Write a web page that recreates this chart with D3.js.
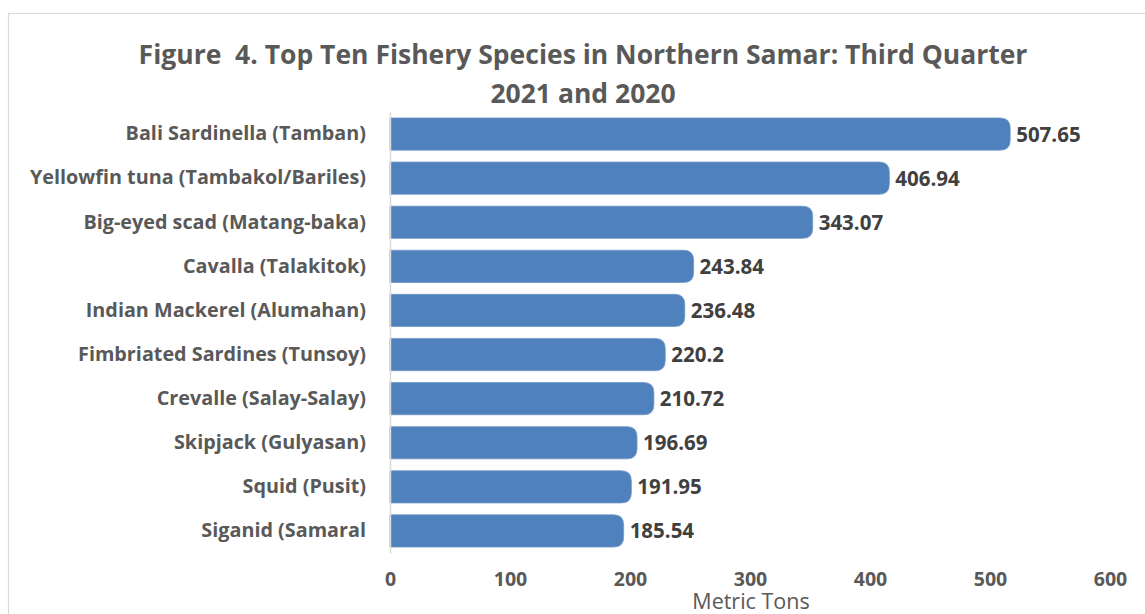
<!DOCTYPE html>
<html>
<head>
<meta charset="utf-8">
<script src="https://cdn.jsdelivr.net/npm/d3@7"></script>
<style>
  html, body { margin: 0; padding: 0; background: #fff; }
  svg { display: block; }
  text { font-family: "Open Sans", Lato, sans-serif; white-space: pre; }
</style>
</head>
<body>
<svg id="chart" width="1145" height="614"></svg>
<script>
// Top ten fishery species, Northern Samar, third quarter (metric tons)
const species = [
  "Bali Sardinella (Tamban)",
  "Yellowfin tuna (Tambakol/Bariles)",
  "Big-eyed scad (Matang-baka)",
  "Cavalla (Talakitok)",
  "Indian Mackerel (Alumahan)",
  "Fimbriated Sardines (Tunsoy)",
  "Crevalle (Salay-Salay)",
  "Skipjack (Gulyasan)",
  "Squid (Pusit)",
  "Siganid (Samaral"
];
const volumes = [507.65, 406.94, 343.07, 243.84, 236.48, 220.2, 210.72, 196.69, 191.95, 185.54];
const volumeLabels = ["507.65", "406.94", "343.07", "243.84", "236.48", "220.2", "210.72", "196.69", "191.95", "185.54"];
const tickValues = [0, 100, 200, 300, 400, 500, 600];
const titleLines = ["Figure  4. Top Ten Fishery Species in Northern Samar: Third Quarter", "2021 and 2020"];
const axisTitle = "Metric Tons";

const FONT = "'Open Sans', Lato, sans-serif";
const svg = d3.select("#chart");
const W = 1145, H = 614;
const plot = { left: 390, right: 1110, top: 112, bottom: 553 };
const capExtra = 11; // rounded bar end extends past its value

// chart area outline
svg.append("rect")
  .attr("x", 8.5).attr("y", 13.5)
  .attr("width", W + 10).attr("height", H + 10)
  .attr("fill", "#fff")
  .attr("stroke", "#d9d9d9").attr("stroke-width", 1.2);

// title
const title = svg.append("text")
  .attr("text-anchor", "middle")
  .attr("fill", "#595959")
  .attr("font-size", 26.5)
  .attr("font-weight", 700);
titleLines.forEach((t, i) => {
  title.append("tspan").attr("x", 583).attr("y", 64 + i * 39).text(t);
});

const x = d3.scaleLinear().domain([0, 600]).range([plot.left, plot.right]);
const y = d3.scaleBand().domain(species).range([plot.top, plot.bottom]).paddingInner(0.27).paddingOuter(0.135);

const rows = species.map((s, i) => ({ s, v: volumes[i], label: volumeLabels[i] }));

// bars with rounded right ends
const r = 10;
svg.append("g").selectAll("path")
  .data(rows)
  .join("path")
  .attr("fill", "#4f81bd")
  .attr("stroke", "#6f97c9")
  .attr("stroke-width", 0.8)
  .attr("d", d => {
    const x0 = x(0), x1 = x(d.v) + capExtra;
    const y0 = y(d.s), h = y.bandwidth();
    return `M${x0},${y0} H${x1 - r} Q${x1},${y0} ${x1},${y0 + r} V${y0 + h - r} Q${x1},${y0 + h} ${x1 - r},${y0 + h} H${x0} Z`;
  });

// value labels
svg.append("g").selectAll("text")
  .data(rows)
  .join("text")
  .attr("x", d => x(d.v) + capExtra + 6)
  .attr("y", d => y(d.s) + y.bandwidth() / 2 + 7.5)
  .attr("fill", "#404040")
  .attr("font-size", 20.5)
  .attr("font-weight", 700)
  .text(d => d.label);

// category axis
const yAxis = svg.append("g")
  .attr("transform", `translate(${plot.left},0)`)
  .call(d3.axisLeft(y).tickSize(0).tickPadding(24));
yAxis.select(".domain").attr("stroke", "#d9d9d9").attr("stroke-width", 1.5);
yAxis.selectAll("text")
  .attr("fill", "#595959")
  .attr("font-size", 19.8)
  .attr("font-weight", 700)
  .attr("font-family", FONT);

// value axis (labels only)
const xAxis = svg.append("g")
  .attr("transform", `translate(0,${plot.bottom})`)
  .call(d3.axisBottom(x).tickValues(tickValues).tickSize(0).tickPadding(19));
xAxis.select(".domain").remove();
xAxis.selectAll("text")
  .attr("fill", "#595959")
  .attr("font-size", 19.5)
  .attr("font-weight", 700)
  .attr("font-family", FONT);

// axis title
svg.append("text")
  .attr("x", (plot.left + plot.right) / 2 + 1)
  .attr("y", 609)
  .attr("text-anchor", "middle")
  .attr("fill", "#595959")
  .attr("font-size", 21.5)
  .text(axisTitle);
</script>
</body>
</html>
